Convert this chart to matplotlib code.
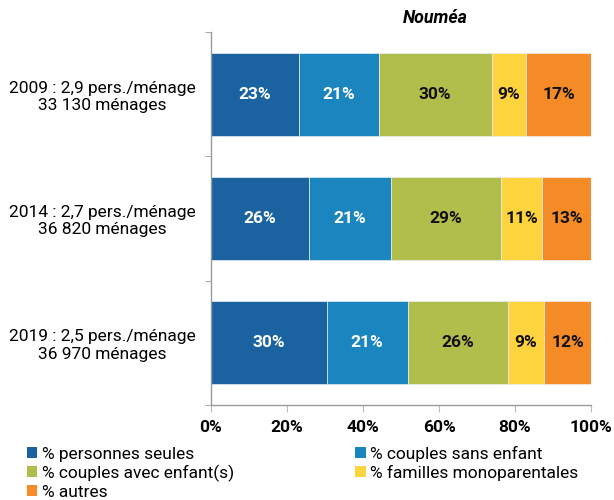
import matplotlib
matplotlib.use("Agg")
import matplotlib.pyplot as plt
from matplotlib.patches import Patch
import numpy as np

plt.rcParams['font.family'] = ['Roboto', 'DejaVu Sans']

categories = ["2009 : 2,9 pers./ménage\n33 130 ménages",
              "2014 : 2,7 pers./ménage\n36 820 ménages",
              "2019 : 2,5 pers./ménage\n36 970 ménages"]
series_names = ["% personnes seules", "% couples sans enfant",
                "% couples avec enfant(s)", "% familles monoparentales", "% autres"]
personnes_seules = [23.1, 25.9, 30.4]
couples_sans_enfant = [21.0, 21.4, 21.4]
couples_avec_enfants = [29.8, 29.1, 26.4]
familles_monoparentales = [9.0, 10.8, 9.4]
autres = [17.1, 12.8, 12.4]
series = [personnes_seules, couples_sans_enfant, couples_avec_enfants,
          familles_monoparentales, autres]
colors = ["#1a63a0", "#1a85be", "#b2be4c", "#fdd33e", "#f48b26"]
label_colors = ["white", "white", "#111111", "#111111", "#111111"]
title = "Nouméa"

fig = plt.figure(figsize=(6.14, 5.0), dpi=100)
ax = fig.add_axes([0.3436, 0.19, 0.619, 0.746])

y = np.arange(len(categories))
left = np.zeros(len(categories))
for vals, col, lc in zip(series, colors, label_colors):
    vals = np.array(vals)
    ax.barh(y, vals, left=left, height=0.67, color=col,
            edgecolor="#e8eef2", linewidth=0.5)
    for yi, l, v in zip(y, left, vals):
        ax.text(l + v / 2, yi, f"{v:.0f}%", ha="center", va="center",
                color=lc, fontsize=12.5, fontweight="bold")
    left += vals

ax.set_xlim(0, 100)
ax.set_ylim(2.5, -0.5)
ax.set_yticks(y)
ax.set_yticklabels(categories, fontsize=12.5, multialignment="center")
ax.tick_params(axis="y", length=0, pad=11)
ax.set_yticks([-0.5, 0.5, 1.5, 2.5], minor=True)
ax.tick_params(axis="y", which="minor", length=4, color="#999999")
ax.set_xticks([0, 20, 40, 60, 80, 100])
ax.set_xticklabels([f"{t}%" for t in [0, 20, 40, 60, 80, 100]],
                   fontsize=12.5, fontweight="bold")
ax.tick_params(axis="x", length=5, color="#bbbbbb", pad=6)
for s in ["top", "right"]:
    ax.spines[s].set_visible(False)
for s in ["left", "bottom"]:
    ax.spines[s].set_color("#999999")
    ax.spines[s].set_linewidth(1)

fig.text(435 / 614, 1 - 18 / 500, title, ha="center", va="center",
         fontsize=12.8, fontweight="bold", fontstyle="italic")

handles = [Patch(facecolor=c, edgecolor="none", label=n) for c, n in zip(colors, series_names)]
order = [0, 2, 4, 1, 3]
fig.legend([handles[i] for i in order], [series_names[i] for i in order],
           ncol=2, loc="upper left", bbox_to_anchor=(27 / 614, 1 - 446 / 500),
           frameon=False, fontsize=12.5, handlelength=0.6, handleheight=0.6,
           handletextpad=0.25, columnspacing=7.0, labelspacing=0.15,
           borderaxespad=0, borderpad=0)

fig.savefig("out.png", dpi=100)
